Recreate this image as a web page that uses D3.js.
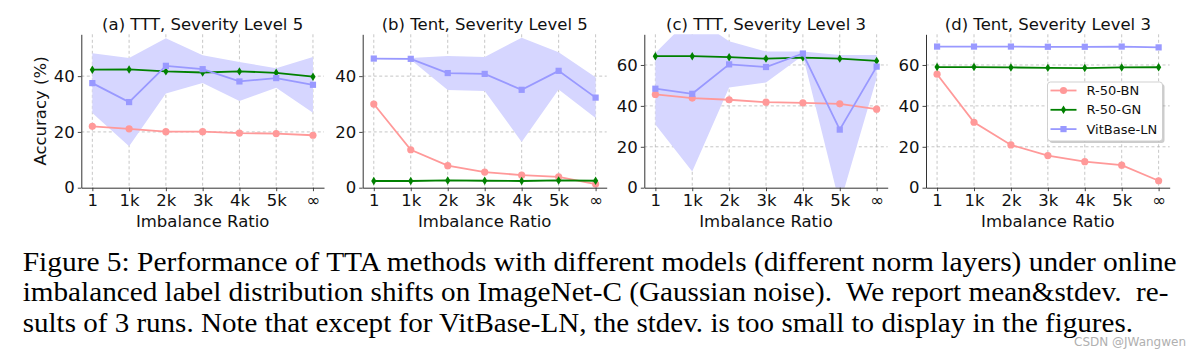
<!DOCTYPE html>
<html>
<head>
<meta charset="utf-8">
<script src="https://cdn.jsdelivr.net/npm/d3@7"></script>
<style>
  html, body { margin: 0; padding: 0; background: #fff; }
  svg { display: block; }
</style>
</head>
<body>
<svg id="chart" width="1204" height="355"></svg>
<script>
// ---------------- data ----------------
const categories = ["1", "1k", "2k", "3k", "4k", "5k", "\u221e"];
const titles = ["(a) TTT, Severity Level 5", "(b) Tent, Severity Level 5",
                "(c) TTT, Severity Level 3", "(d) Tent, Severity Level 3"];
const yMaxes = [55, 55, 75, 75];
const yTicksAB = [0, 20, 40];
const yTicksCD = [0, 20, 40, 60];
const seriesNames = ["R-50-BN", "R-50-GN", "VitBase-LN"];

const bnA = [22.0, 21.1, 20.1, 20.1, 19.6, 19.4, 18.8];
const gnA = [42.3, 42.4, 41.7, 41.3, 41.7, 41.2, 39.8];
const vitA = [37.5, 30.7, 43.7, 42.5, 38.1, 39.3, 36.9];
const vitStdA = [10.7, 15.8, 9.9, 5.0, 7.0, 3.5, 10.0];

const bnB = [30.0, 13.6, 7.9, 5.6, 4.5, 3.9, 1.3];
const gnB = [2.4, 2.4, 2.6, 2.5, 2.4, 2.6, 2.5];
const vitB = [46.3, 46.2, 41.1, 40.8, 35.1, 41.9, 32.3];
const vitStdB = [0.2, 0.3, 6.1, 6.1, 18.7, 6.7, 7.3];

const bnC = [45.6, 43.8, 43.0, 41.8, 41.5, 41.0, 38.4];
const gnC = [64.3, 64.3, 63.8, 63.1, 63.6, 63.1, 62.0];
const vitC = [48.4, 45.9, 60.3, 59.0, 65.6, 28.4, 59.2];
const vitStdC = [17.5, 38.0, 11.3, 7.6, 1.0, 36.5, 5.7];

const bnD = [55.5, 32.0, 20.9, 15.7, 12.7, 11.0, 3.4];
const gnD = [59.0, 59.0, 58.8, 58.6, 58.5, 58.8, 58.9];
const vitD = [69.0, 69.0, 69.0, 68.9, 68.9, 69.0, 68.6];
const vitStdD = [0.2, 0.2, 0.2, 0.2, 0.2, 0.2, 0.2];

const captionLines = [
  "Figure 5: Performance of TTA methods with different models (different norm layers) under online",
  "imbalanced label distribution shifts on ImageNet-C (Gaussian noise).  We report mean&stdev.  re-",
  "sults of 3 runs. Note that except for VitBase-LN, the stdev. is too small to display in the figures."
];

// ---------------- layout / style ----------------
const panels = [
  {title: titles[0], bn: bnA, gn: gnA, vit: vitA, std: vitStdA, yMax: yMaxes[0], yTicks: yTicksAB, left: 81.3, right: 324, ylabel: true},
  {title: titles[1], bn: bnB, gn: gnB, vit: vitB, std: vitStdB, yMax: yMaxes[1], yTicks: yTicksAB, left: 362.7, right: 606.7},
  {title: titles[2], bn: bnC, gn: gnC, vit: vitC, std: vitStdC, yMax: yMaxes[2], yTicks: yTicksCD, left: 644.3, right: 887.7},
  {title: titles[3], bn: bnD, gn: gnD, vit: vitD, std: vitStdD, yMax: yMaxes[3], yTicks: yTicksCD, left: 926, right: 1169.7, legend: true}
];
const TOP = 34.3, BOTTOM = 187.7;
const colBN = "#ff9999", colGN = "#008000", colVIT = "#9999ff", colFill = "#d6d6ff";
const FONT = "DejaVu Sans, sans-serif";

const svg = d3.select("#chart");
const defs = svg.append("defs");

function marker(g, type, cx, cy, color) {
  if (type === "circle") {
    g.append("circle").attr("cx", cx).attr("cy", cy).attr("r", 3.6).attr("fill", color);
  } else if (type === "diamond") {
    g.append("path").attr("d", `M${cx},${cy-4.2}L${cx+2.6},${cy}L${cx},${cy+4.2}L${cx-2.6},${cy}Z`).attr("fill", color);
  } else {
    g.append("rect").attr("x", cx-3.1).attr("y", cy-3.1).attr("width", 6.2).attr("height", 6.2).attr("fill", color);
  }
}

panels.forEach((p, i) => {
  const x = d3.scaleLinear().domain([-0.3, categories.length - 1 + 0.3]).range([p.left, p.right]);
  const y = d3.scaleLinear().domain([0, p.yMax]).range([BOTTOM, TOP]);
  const g = svg.append("g");

  const clipId = "clip" + i;
  defs.append("clipPath").attr("id", clipId).append("rect")
    .attr("x", p.left).attr("y", TOP).attr("width", p.right - p.left).attr("height", BOTTOM - TOP);

  // grid
  const grid = g.append("g");
  categories.forEach((c, k) => {
    grid.append("line").attr("x1", x(k)).attr("x2", x(k)).attr("y1", TOP).attr("y2", BOTTOM)
      .attr("stroke", "#b8b8b8").attr("stroke-width", 0.8).attr("stroke-dasharray", "3,2.5");
  });
  p.yTicks.forEach(t => {
    if (t === 0) return;
    grid.append("line").attr("x1", p.left).attr("x2", p.right).attr("y1", y(t)).attr("y2", y(t))
      .attr("stroke", "#b8b8b8").attr("stroke-width", 0.8).attr("stroke-dasharray", "3,2.5");
  });

  const plot = g.append("g").attr("clip-path", `url(#${clipId})`);
  const idx = d3.range(categories.length);

  // std band for VitBase-LN
  const area = d3.area().x(k => x(k)).y0(k => y(p.vit[k] - p.std[k])).y1(k => y(p.vit[k] + p.std[k]));
  plot.append("path").attr("d", area(idx)).attr("fill", colFill).attr("stroke", "none");

  const line = vals => d3.line().x(k => x(k)).y(k => y(vals[k]))(idx);
  const series = [
    {vals: p.bn, color: colBN, type: "circle"},
    {vals: p.gn, color: colGN, type: "diamond"},
    {vals: p.vit, color: colVIT, type: "square"}
  ];
  series.forEach(s => {
    plot.append("path").attr("d", line(s.vals)).attr("fill", "none").attr("stroke", s.color).attr("stroke-width", 1.8);
    idx.forEach(k => marker(plot, s.type, x(k), y(s.vals[k]), s.color));
  });

  // axes
  const xAxis = d3.axisBottom(x).tickValues(idx).tickFormat(k => categories[k]).tickSizeInner(3.5).tickSizeOuter(0).tickPadding(3);
  const yAxis = d3.axisLeft(y).tickValues(p.yTicks).tickFormat(d3.format("d")).tickSizeInner(3.5).tickSizeOuter(0).tickPadding(3);
  const gx = g.append("g").attr("transform", `translate(0,${BOTTOM})`).call(xAxis);
  const gy = g.append("g").attr("transform", `translate(${p.left},0)`).call(yAxis);
  [gx, gy].forEach(a => {
    a.select(".domain").attr("stroke", "#333").attr("stroke-width", 1);
    a.selectAll(".tick line").attr("stroke", "#333").attr("stroke-width", 0.9);
    a.selectAll(".tick text").attr("fill", "#111").style("font-family", FONT).style("font-size", "16.5px");
  });

  // title
  g.append("text").attr("x", (p.left + p.right) / 2).attr("y", 30).attr("text-anchor", "middle")
    .style("font-family", FONT).style("font-size", "16.5px").attr("fill", "#111").text(p.title);
  // x label
  g.append("text").attr("x", (p.left + p.right) / 2).attr("y", 227).attr("text-anchor", "middle")
    .style("font-family", FONT).style("font-size", "16.5px").attr("fill", "#111").text("Imbalance Ratio");
  if (p.ylabel) {
    g.append("text").attr("transform", `translate(45.5,${(TOP + BOTTOM) / 2}) rotate(-90)`).attr("text-anchor", "middle")
      .style("font-family", FONT).style("font-size", "16.5px").attr("fill", "#111").text("Accuracy (%)");
  }

  if (p.legend) {
    const lg = g.append("g");
    const lx = 1047.5, ly = 82, lw = 115, lh = 59;
    lg.append("rect").attr("x", lx + 2).attr("y", ly + 2).attr("width", lw).attr("height", lh).attr("rx", 3)
      .attr("fill", "#999").attr("opacity", 0.5);
    lg.append("rect").attr("x", lx).attr("y", ly).attr("width", lw).attr("height", lh).attr("rx", 3)
      .attr("fill", "#fff").attr("stroke", "#cccccc").attr("stroke-width", 0.9);
    series.forEach((s, j) => {
      const yy = 90.5 + j * 19.3;
      lg.append("line").attr("x1", 1050.5).attr("x2", 1076.5).attr("y1", yy).attr("y2", yy)
        .attr("stroke", s.color).attr("stroke-width", 1.8);
      marker(lg, s.type, 1063.5, yy, s.color);
      lg.append("text").attr("x", 1086.5).attr("y", yy + 4.6).style("font-family", FONT).style("font-size", "13px")
        .attr("fill", "#111").text(seriesNames[j]);
    });
  }
});

// caption: Times-like glyphs fitted to the justified line width
const capLeft = 22.7;
const capRights = [1176.7, 1168.5, 1133];
captionLines.forEach((t, i) => {
  svg.append("text").attr("x", capLeft).attr("y", 270.7 + i * 30.5)
    .style("font-family", "Liberation Serif, Times New Roman, serif").style("font-size", "27px")
    .attr("fill", "#000").style("white-space", "pre")
    .attr("textLength", capRights[i] - capLeft).attr("lengthAdjust", "spacingAndGlyphs")
    .text(t);
});

// watermark
svg.append("text").attr("x", 1074).attr("y", 346).style("font-family", FONT).style("font-size", "12px")
  .attr("fill", "#b0b0b0").text("CSDN @JWangwen");
</script>
</body>
</html>
